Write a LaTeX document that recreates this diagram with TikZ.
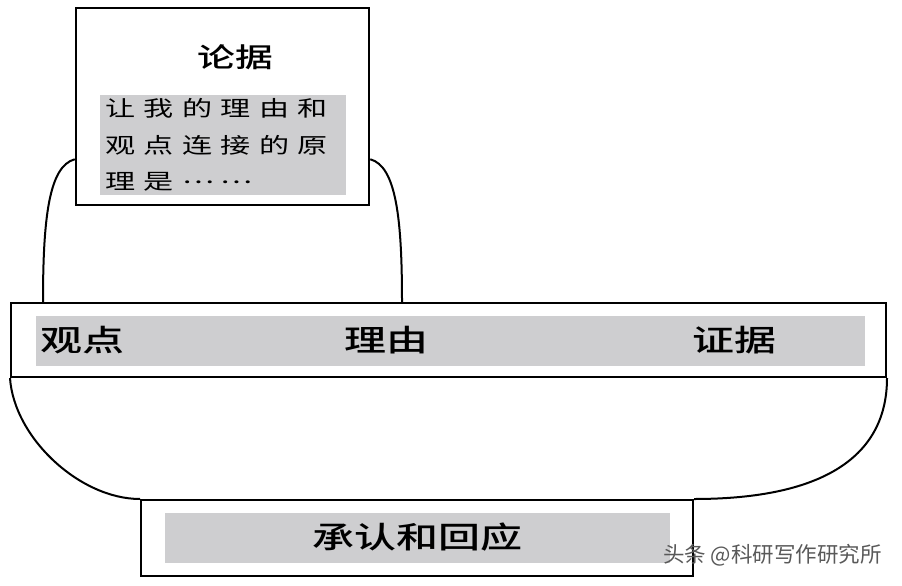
\documentclass[tikz,border=0pt]{standalone}
\usepackage{fontspec}
\newfontfamily\hei[FakeStretch=1.4,BoldFont={Noto Sans CJK SC Medium}]{Noto Sans CJK SC}
\newfontfamily\plain{Noto Sans CJK SC}
\definecolor{boxgray}{RGB}{206,206,208}

\begin{document}
\begin{tikzpicture}[x=1pt,y=-1pt,line width=2pt,
        frame/.style={draw,fill=white,inner sep=0pt},
        greybox/.style={fill=boxgray,inner sep=0pt},
        tag/.style={font=\hei\bfseries\fontsize{30}{36}\selectfont}]
    \useasboundingbox (0,0) rectangle (902,586);

    \node[frame,minimum width=875pt,minimum height=74pt] (band) at (448.5,340) {};
    \node[greybox,minimum width=829pt,minimum height=50pt] (bandgrey) at (450.5,341) {};
    \node[tag] (guandian) at (82,340) {观点};
    \node[tag] (liyou) at (386,340) {理由};
    \node[tag] (zhengju) at (734,340) {证据};

    \node[frame,minimum width=552pt,minimum height=76pt] (ack) at (417,538) {};
    \node[greybox,minimum width=505pt,minimum height=50pt] (ackgrey) at (417.5,538) {};
    \node[tag] (huiying) at (417,537) {承认和回应};

    \node[frame,line width=2.5pt,minimum width=293pt,minimum height=197pt] (lunju) at (222.5,106.5) {};
    \node[tag,font=\hei\bfseries\fontsize{27}{32}\selectfont] (lunjut) at (235,57) {论据};
    \node[greybox,minimum width=246pt,minimum height=100pt,text width=236pt,align=left,
          font=\hei\fontsize{21.5}{36.5}\selectfont] (yuanli) at (223,145)
          {\spaceskip=8.5pt 让 我 的 理 由 和\\观 点 连 接 的 原\\理 是 \raisebox{6pt}{…\hspace{6pt}…}};

    \draw ([yshift=47pt]lunju.south west) .. controls +(-26,7) and +(0,-83) .. ([xshift=33pt]band.north west);
    \draw ([yshift=47pt]lunju.south east) .. controls +(26,7) and +(0,-83) .. ([xshift=-485pt]band.north east);

    \draw (band.south west) .. controls +(4,60) and +(-60,0) .. (ack.north west);
    \draw (band.south east) .. controls +(0,78) and +(130,0) .. (ack.north east);

    \node[anchor=east,text=black!65,font=\plain\fontsize{21.5}{26}\selectfont] (mark) at (886,555) {头条 @科研写作研究所};
\end{tikzpicture}
\end{document}
